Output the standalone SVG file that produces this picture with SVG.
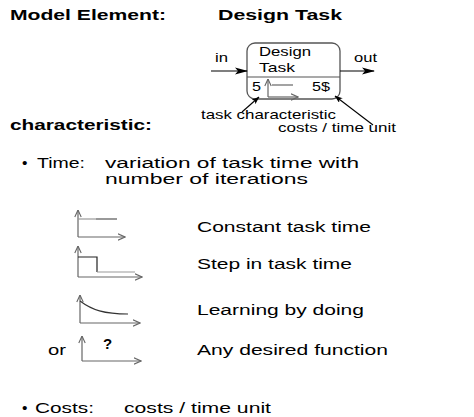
<svg xmlns="http://www.w3.org/2000/svg" width="474" height="417" viewBox="0 0 474 417">
  <defs>
    <style>
      text { font-family: "Liberation Sans", Arial, sans-serif; fill: #000; }
      .title { font-size: 15px; font-weight: bold; }
      .body { font-size: 15.5px; }
      .small { font-size: 13px; }
      .axis { stroke: #666; stroke-width: 1.2; fill: none; }
      .curve { stroke: #333; stroke-width: 1.1; fill: none; }
      .flow { stroke: #000; stroke-width: 1.1; fill: none; }
      .box { stroke: #555; stroke-width: 1.3; fill: #fff; }
    </style>
    <marker id="solid" viewBox="0 0 13 8" refX="12" refY="4" markerWidth="13" markerHeight="8" markerUnits="userSpaceOnUse" orient="auto">
      <path d="M0,0.5 L13,4 L0,7.5 L3,4 Z" fill="#000"/>
    </marker>
    <marker id="small" viewBox="0 0 8 6" refX="7.5" refY="3" markerWidth="8" markerHeight="6" markerUnits="userSpaceOnUse" orient="auto">
      <path d="M0,0 L8,3 L0,6 L2,3 Z" fill="#000"/>
    </marker>
    <marker id="open" viewBox="0 0 8 8" refX="7.5" refY="4" markerWidth="8" markerHeight="8" markerUnits="userSpaceOnUse" orient="auto">
      <path d="M0.5,0.8 L7.5,4 L0.5,7.2" fill="none" stroke="#666" stroke-width="1.1"/>
    </marker>
  </defs>

  <!-- headings -->
  <g id="headings">
    <text class="title" x="10" y="20" textLength="156" lengthAdjust="spacingAndGlyphs">Model Element:</text>
    <text class="title" x="218" y="20" textLength="124" lengthAdjust="spacingAndGlyphs">Design Task</text>
    <text class="title" x="10" y="130" textLength="142" lengthAdjust="spacingAndGlyphs">characteristic:</text>
  </g>

  <!-- design task element -->
  <g id="design-task">
    <rect class="box" x="247" y="43" width="93" height="56" rx="8"/>
    <line x1="247" y1="77" x2="340" y2="77" stroke="#555" stroke-width="1.2"/>
    <text class="small" x="259" y="56" textLength="52" lengthAdjust="spacingAndGlyphs">Design</text>
    <text class="small" x="259" y="72" textLength="36" lengthAdjust="spacingAndGlyphs">Task</text>
    <text class="small" x="252" y="91" textLength="9" lengthAdjust="spacingAndGlyphs">5</text>
    <text class="small" x="312" y="91" textLength="18" lengthAdjust="spacingAndGlyphs">5$</text>
    <!-- mini time graph -->
    <line class="axis" x1="268" y1="97" x2="268" y2="79" marker-end="url(#open)"/>
    <line class="axis" x1="268" y1="97" x2="298" y2="97" marker-end="url(#open)"/>
    <line class="axis" x1="272" y1="85" x2="293" y2="85"/>
  </g>

  <g id="port-labels">
    <text class="small" x="215" y="62" textLength="13" lengthAdjust="spacingAndGlyphs">in</text>
    <text class="small" x="354" y="62" textLength="23" lengthAdjust="spacingAndGlyphs">out</text>
    <text class="small" x="201" y="119" textLength="135" lengthAdjust="spacingAndGlyphs">task characteristic</text>
    <text class="small" x="278" y="132" textLength="118" lengthAdjust="spacingAndGlyphs">costs / time unit</text>
  </g>

  <!-- connectors -->
  <g id="connectors">
    <line class="flow" x1="211" y1="71" x2="247" y2="71" marker-end="url(#solid)"/>
    <line class="flow" x1="340" y1="71" x2="374" y2="71" marker-end="url(#solid)"/>
    <line class="flow" x1="242" y1="112" x2="259" y2="97" marker-end="url(#small)"/>
    <line class="flow" x1="373" y1="125" x2="335" y2="96" marker-end="url(#small)"/>
  </g>

  <!-- time characteristic -->
  <g id="time">
    <text class="body" x="22" y="168">•</text>
    <text class="body" x="37" y="168" textLength="48" lengthAdjust="spacingAndGlyphs">Time:</text>
    <text class="body" x="105" y="168" textLength="254" lengthAdjust="spacingAndGlyphs">variation of task time with</text>
    <text class="body" x="105" y="184" textLength="203" lengthAdjust="spacingAndGlyphs">number of iterations</text>
  </g>

  <g id="constant">
    <line class="axis" x1="78" y1="237" x2="78" y2="210" marker-end="url(#open)"/>
    <line class="axis" x1="78" y1="237" x2="125" y2="237" marker-end="url(#open)"/>
    <line x1="78" y1="219" x2="96" y2="219" stroke="#999" stroke-width="1.2"/>
    <line x1="96" y1="219" x2="117" y2="219" stroke="#555" stroke-width="1.2"/>
    <text class="body" x="197" y="232" textLength="174" lengthAdjust="spacingAndGlyphs">Constant task time</text>
  </g>

  <g id="step">
    <line class="axis" x1="78" y1="277" x2="78" y2="246" marker-end="url(#open)"/>
    <line class="axis" x1="78" y1="277" x2="142" y2="277" marker-end="url(#open)"/>
    <path d="M78,257 H97 V272" stroke="#222" stroke-width="1.2" fill="none"/>
    <line x1="97" y1="272" x2="135" y2="272" stroke="#999" stroke-width="1.2"/>
    <text class="body" x="197" y="269" textLength="155" lengthAdjust="spacingAndGlyphs">Step in task time</text>
  </g>

  <g id="learning">
    <line class="axis" x1="80" y1="323" x2="80" y2="295" marker-end="url(#open)"/>
    <line class="axis" x1="80" y1="323" x2="140" y2="323" marker-end="url(#open)"/>
    <path class="curve" d="M80,301 C92,310 104,314 128,314"/>
    <text class="body" x="197" y="315" textLength="167" lengthAdjust="spacingAndGlyphs">Learning by doing</text>
  </g>

  <g id="any-function">
    <text class="body" x="48" y="355" textLength="18" lengthAdjust="spacingAndGlyphs">or</text>
    <line class="axis" x1="82" y1="361" x2="82" y2="336" marker-end="url(#open)"/>
    <line class="axis" x1="82" y1="361" x2="141" y2="361" marker-end="url(#open)"/>
    <text class="title" x="103" y="349" style="font-size:15px">?</text>
    <text class="body" x="197" y="355" textLength="191" lengthAdjust="spacingAndGlyphs">Any desired function</text>
  </g>

  <!-- cost characteristic -->
  <g id="costs">
    <text class="body" x="22" y="413">•</text>
    <text class="body" x="35" y="413" textLength="59" lengthAdjust="spacingAndGlyphs">Costs:</text>
    <text class="body" x="124" y="413" textLength="147" lengthAdjust="spacingAndGlyphs">costs / time unit</text>
  </g>
</svg>
